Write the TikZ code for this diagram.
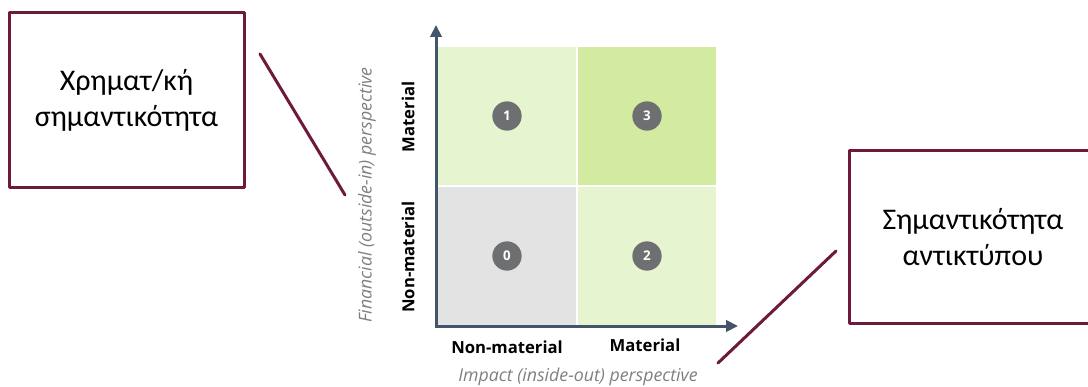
\documentclass[tikz,border=0pt]{standalone}
\usepackage{fontspec}
\setmainfont{Carlito}
\newfontfamily\chartfont{Open Sans}
\usetikzlibrary{arrows.meta,positioning}
\definecolor{maroon}{HTML}{6D1A3C}
\definecolor{slate}{HTML}{44546A}
\definecolor{palegreen}{HTML}{E6F4CF}
\definecolor{midgreen}{HTML}{D2EBA0}
\definecolor{palegray}{HTML}{E3E3E3}
\definecolor{badgegray}{HTML}{6E6F71}
\definecolor{softgray}{HTML}{7F7F7F}
\tikzset{
    every picture/.style={line cap=round,line join=round},
    notebox/.style={draw=maroon,fill=white,line width=2.25pt,inner sep=0pt,
      align=center,font=\fontsize{22.5}{27}\selectfont},
    cell/.style={draw=white,line width=1.5pt,minimum width=105pt,
      minimum height=105pt,inner sep=0pt,outer sep=0pt},
    badge/.style={circle,fill=badgegray,minimum size=22pt,inner sep=0pt,
      text=white,font=\chartfont\bfseries\fontsize{10}{12}\selectfont},
    axislabel/.style={font=\chartfont\bfseries\fontsize{12.5}{15}\selectfont},
    perspective/.style={text=softgray,
      font=\chartfont\itshape\fontsize{13.3}{16}\selectfont},
    axisline/.style={draw=slate,line width=2.25pt,line cap=butt,line join=miter,
      {Triangle[length=9pt,width=8.5pt]}-{Triangle[length=9pt,width=8.5pt]}},
    pointer/.style={draw=maroon,line width=2.25pt}
}
\begin{document}
\begin{tikzpicture}[x=0.75pt,y=0.75pt]
  \useasboundingbox (0,0) rectangle (1088,386);
  % quadrant cells
  \node[cell,fill=palegray] (c00) at (507,130) {};
  \node[cell,fill=palegreen,right=0pt of c00] (c10) {};
  \node[cell,fill=palegreen,above=0pt of c00] (c01) {};
  \node[cell,fill=midgreen,right=0pt of c01] (c11) {};
  \node[badge] at (c00) {0};
  \node[badge] at (c01) {1};
  \node[badge] at (c10) {2};
  \node[badge] at (c11) {3};
  % axes
  \coordinate (origin) at (436,60);
  \coordinate (ytip) at (436,361);
  \coordinate (xtip) at (738,60);
  \draw[axisline] (ytip) -- (origin) -- (xtip);
  \node[axislabel] (xlow) at (507,39) {Non-material};
  \node[axislabel] (xhigh) at (645,41) {Material};
  \node[axislabel,rotate=90] (ylow) at (408,129) {Non-material};
  \node[axislabel,rotate=90] (yhigh) at (408,269) {Material};
  \node[perspective,rotate=90] (ytitle) at (367,191) {Financial (outside-in) perspective};
  \node[perspective] (xtitle) at (578,9) {Impact (inside-out) perspective};
  % callouts
  \node[notebox,minimum width=176.25pt,minimum height=131.25pt]
    (fin) at (126.5,285.5) {Χρηματ/κή\\σημαντικότητα};
  \node[notebox,minimum width=186pt,minimum height=129pt]
    (imp) at (973,149) {Σημαντικότητα\\αντικτύπου};
  \coordinate (finA) at (260,332);
  \coordinate (finB) at (345,191);
  \coordinate (impA) at (836,135);
  \coordinate (impB) at (718,23);
  \draw[pointer] (finA) -- (finB);
  \draw[pointer] (impA) -- (impB);
\end{tikzpicture}
\end{document}
